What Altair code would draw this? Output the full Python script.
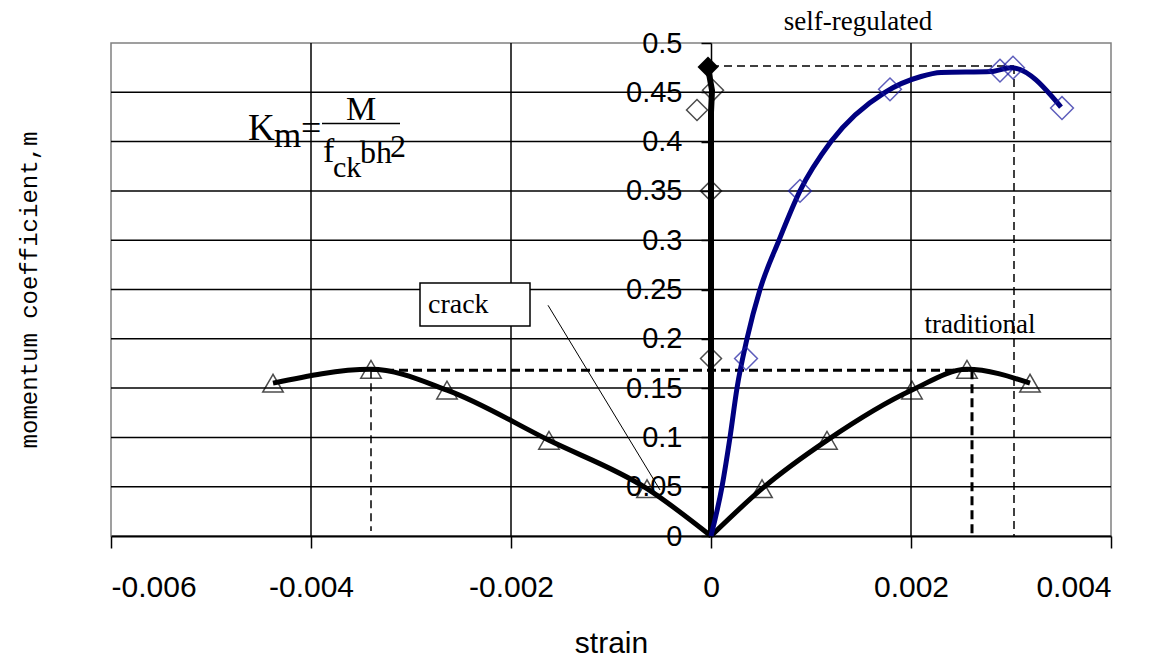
import altair as alt
import pandas as pd

# ---------------- data ----------------
# self-regulated curve (blue, smoothed line)
sr_line_x = [0, 0.00011, 0.00019, 0.00026, 0.00036, 0.00049, 0.00068, 0.00089, 0.0012, 0.00174, 0.0021, 0.0023, 0.0028, 0.0030, 0.0035]
sr_line_y = [0, 0.05, 0.10, 0.15, 0.20, 0.25, 0.30, 0.35, 0.40, 0.45, 0.466, 0.47, 0.471, 0.475, 0.435]
# self-regulated markers (open blue diamonds)
sr_mark_x = [0.00035, 0.00089, 0.00179, 0.00289, 0.00302, 0.00351]
sr_mark_y = [0.18, 0.35, 0.453, 0.472, 0.475, 0.434]

# compressive side of self-regulated (black, along strain ~ 0)
cp_line_x = [0, 0, 0, 0, 0.00001, -0.00003]
cp_line_y = [0, 0.18, 0.35, 0.43, 0.452, 0.475]
cp_mark_x = [0, 0, -0.00014, 0.00002]
cp_mark_y = [0.18, 0.35, 0.432, 0.452]
cp_peak_x = [-0.00003]
cp_peak_y = [0.4757]

# traditional (black line, open triangles): compressive branch and tensile branch
tr_left_x = [-0.00438, -0.0034, -0.00264, -0.00162, -0.00064, 0]
tr_left_y = [0.155, 0.169, 0.148, 0.097, 0.048, 0]
tr_right_x = [0, 0.00051, 0.00116, 0.00201, 0.00256, 0.00319]
tr_right_y = [0, 0.048, 0.097, 0.148, 0.169, 0.155]

# reference (dashed) lines
sr_peak_level = 0.4767
sr_peak_strain = 0.00303
tr_peak_level = 0.168
tr_peak_left = -0.0034
tr_peak_right = 0.00261

# axes
x_ticks = [-0.006, -0.004, -0.002, 0, 0.002, 0.004]
y_ticks = [0, 0.05, 0.1, 0.15, 0.2, 0.25, 0.3, 0.35, 0.4, 0.45, 0.5]
x_grid = [-0.004, -0.002, 0.002]
y_grid = [0.05, 0.1, 0.15, 0.2, 0.25, 0.3, 0.35, 0.4, 0.45]

# ---------------- scales / axes ----------------
x_scale = alt.Scale(domain=[-0.006, 0.004], nice=False, zero=False)
y_scale = alt.Scale(domain=[0, 0.5], nice=False, zero=False)

x_axis = alt.Axis(
    values=x_ticks, grid=False, domainColor="black", domainWidth=2,
    tickColor="black", tickWidth=1.5, tickSize=12, labelPadding=24,
    labelFont="Liberation Sans", labelFontSize=30, labelColor="black",
    labelExpr="datum.value == 0 ? '0' : (datum.value < 0 ? '-' : '') + format(abs(datum.value), '.3f')",
    title="strain", titleFont="Liberation Sans", titleFontSize=30,
    titleFontWeight="normal", titleColor="black", titlePadding=26,
)
y_axis = alt.Axis(
    values=y_ticks, grid=False, offset=-600, domainColor="black", domainWidth=1.5,
    tickColor="black", tickWidth=1.5, tickSize=10, labelPadding=19,
    labelFont="Liberation Sans", labelFontSize=29, labelColor="black",
    labelExpr="format(datum.value, '.2~f')", title="",
)


def X(f):
    return alt.X(f, type="quantitative", scale=x_scale, axis=x_axis)


def Y(f):
    return alt.Y(f, type="quantitative", scale=y_scale, axis=y_axis)


# ---------------- tables ----------------
hgrid = pd.DataFrame({"y": y_grid, "x": -0.006, "x2": 0.004})
vgrid = pd.DataFrame({"x": x_grid, "y": 0.0, "y2": 0.5})

sr_line = pd.DataFrame({"x": sr_line_x, "y": sr_line_y, "o": range(len(sr_line_x))})
sr_mark = pd.DataFrame({"x": sr_mark_x, "y": sr_mark_y})
cp_line = pd.DataFrame({"x": cp_line_x, "y": cp_line_y, "o": range(len(cp_line_x))})
cp_mark = pd.DataFrame({"x": cp_mark_x, "y": cp_mark_y})
cp_peak = pd.DataFrame({"x": cp_peak_x, "y": cp_peak_y})
tr_line = pd.concat([
    pd.DataFrame({"x": tr_left_x, "y": tr_left_y, "side": "compression", "o": range(len(tr_left_x))}),
    pd.DataFrame({"x": tr_right_x, "y": tr_right_y, "side": "tension", "o": range(len(tr_right_x))}),
], ignore_index=True)
tr_mark = tr_line[tr_line["x"] != 0]

thin_dash = pd.DataFrame({
    "x": [0, sr_peak_strain, tr_peak_left],
    "x2": [sr_peak_strain, sr_peak_strain, tr_peak_left],
    "y": [sr_peak_level, sr_peak_level, tr_peak_level],
    "y2": [sr_peak_level, 0.0, 0.005],
})
thick_dash = pd.DataFrame({
    "x": [tr_peak_left, tr_peak_right],
    "x2": [tr_peak_right, tr_peak_right],
    "y": [tr_peak_level, tr_peak_level],
    "y2": [tr_peak_level, 0.0],
})

# ---------------- layers ----------------
grid_h = alt.Chart(hgrid).mark_rule(color="black", strokeWidth=1.5).encode(x=X("x"), x2="x2", y=Y("y"))
grid_v = alt.Chart(vgrid).mark_rule(color="black", strokeWidth=1.5).encode(x=X("x"), y=Y("y"), y2="y2")

dash_thin = alt.Chart(thin_dash).mark_rule(color="black", strokeWidth=1.5, strokeDash=[8, 5]).encode(
    x=X("x"), x2="x2", y=Y("y"), y2="y2")
dash_thick = alt.Chart(thick_dash).mark_rule(color="black", strokeWidth=3, strokeDash=[9, 5]).encode(
    x=X("x"), x2="x2", y=Y("y"), y2="y2")

tr_l = alt.Chart(tr_line).mark_line(color="black", strokeWidth=5, interpolate="monotone").encode(
    x=X("x"), y=Y("y"), detail="side:N", order="o:Q")
tr_m = alt.Chart(tr_mark).mark_point(shape="triangle-up", size=420, filled=False, color="black",
                                     strokeWidth=1.5).encode(x=X("x"), y=Y("y"))

cp_l = alt.Chart(cp_line).mark_line(color="black", strokeWidth=6).encode(x=X("x"), y=Y("y"), order="o:Q")
cp_m = alt.Chart(cp_mark).mark_point(shape="diamond", size=440, filled=False, color="black",
                                     strokeWidth=1.5).encode(x=X("x"), y=Y("y"))
cp_p = alt.Chart(cp_peak).mark_point(shape="diamond", size=440, filled=True, color="black",
                                     opacity=1).encode(x=X("x"), y=Y("y"))

sr_l = alt.Chart(sr_line).mark_line(color="#000080", strokeWidth=5, interpolate="monotone").encode(
    x=X("x"), y=Y("y"), order="o:Q")
sr_m = alt.Chart(sr_mark).mark_point(shape="diamond", size=520, filled=False, color="#1a1aa0",
                                     strokeWidth=1.5).encode(x=X("x"), y=Y("y"))

# ---------------- annotations ----------------
labels = pd.DataFrame({
    "x": [0.00147, 0.00269],
    "y": [0.521, 0.214],
    "t": ["self-regulated", "traditional"],
})
lab = alt.Chart(labels).mark_text(font="Liberation Serif", fontSize=27, color="black",
                                  align="center", baseline="middle").encode(x=X("x"), y=Y("y"), text="t:N")

ytitle = pd.DataFrame({"x": [-0.00681], "y": [0.2495], "t": ["momentum coefficient,m"]})
ytl = alt.Chart(ytitle).mark_text(font="Liberation Mono", fontSize=24, color="black", angle=270,
                                  align="center", baseline="middle").encode(x=X("x"), y=Y("y"), text="t:N")

crack_box = pd.DataFrame({"x": [-0.00291], "x2": [-0.00181], "y": [0.213], "y2": [0.2566]})
cbox = alt.Chart(crack_box).mark_rect(fill="white", stroke="black", strokeWidth=1.5).encode(
    x=X("x"), x2="x2", y=Y("y"), y2="y2")
crack_txt = pd.DataFrame({"x": [-0.00283], "y": [0.2343], "t": ["crack"]})
ctxt = alt.Chart(crack_txt).mark_text(font="Liberation Serif", fontSize=28, color="black", align="left",
                                      baseline="middle").encode(x=X("x"), y=Y("y"), text="t:N")
crack_ptr = pd.DataFrame({"x": [-0.00163], "x2": [-0.00051], "y": [0.234], "y2": [0.0467]})
cptr = alt.Chart(crack_ptr).mark_rule(color="black", strokeWidth=1).encode(
    x=X("x"), x2="x2", y=Y("y"), y2="y2")

formula = pd.DataFrame({
    "x": [-0.00463, -0.00437, -0.00410, -0.00365, -0.00388, -0.00378, -0.00351, -0.00321],
    "y": [0.4016, 0.3945, 0.4016, 0.4219, 0.3793, 0.3641, 0.3783, 0.3844],
    "t": ["K", "m", "=", "M", "f", "ck", "bh", "2"],
    "fs": [37, 35, 36, 34, 34, 30, 32, 32],
})
ftxt = alt.Chart(formula).mark_text(font="Liberation Serif", color="black", align="left",
                                    baseline="alphabetic").encode(
    x=X("x"), y=Y("y"), text="t:N", size=alt.Size("fs:Q", scale=None, legend=None))
frac = pd.DataFrame({"x": [-0.00389], "x2": [-0.00311], "y": [0.4184]})
fbar = alt.Chart(frac).mark_rule(color="black", strokeWidth=1.5).encode(x=X("x"), x2="x2", y=Y("y"))

chart = alt.layer(
    grid_h, grid_v, dash_thin, dash_thick,
    tr_l, tr_m, cp_l, sr_l, sr_m, cp_m, cp_p,
    cptr, cbox, ctxt, lab, ytl, ftxt, fbar,
).properties(
    width=1000, height=493,
    padding={"left": 111, "top": 43, "right": 47, "bottom": 123},
    autosize=alt.AutoSizeParams(type="none"),
    background="white",
).configure_view(stroke="#808080", strokeWidth=1.5)

chart.save("out.html", embed_options={"renderer": "svg", "actions": False})
